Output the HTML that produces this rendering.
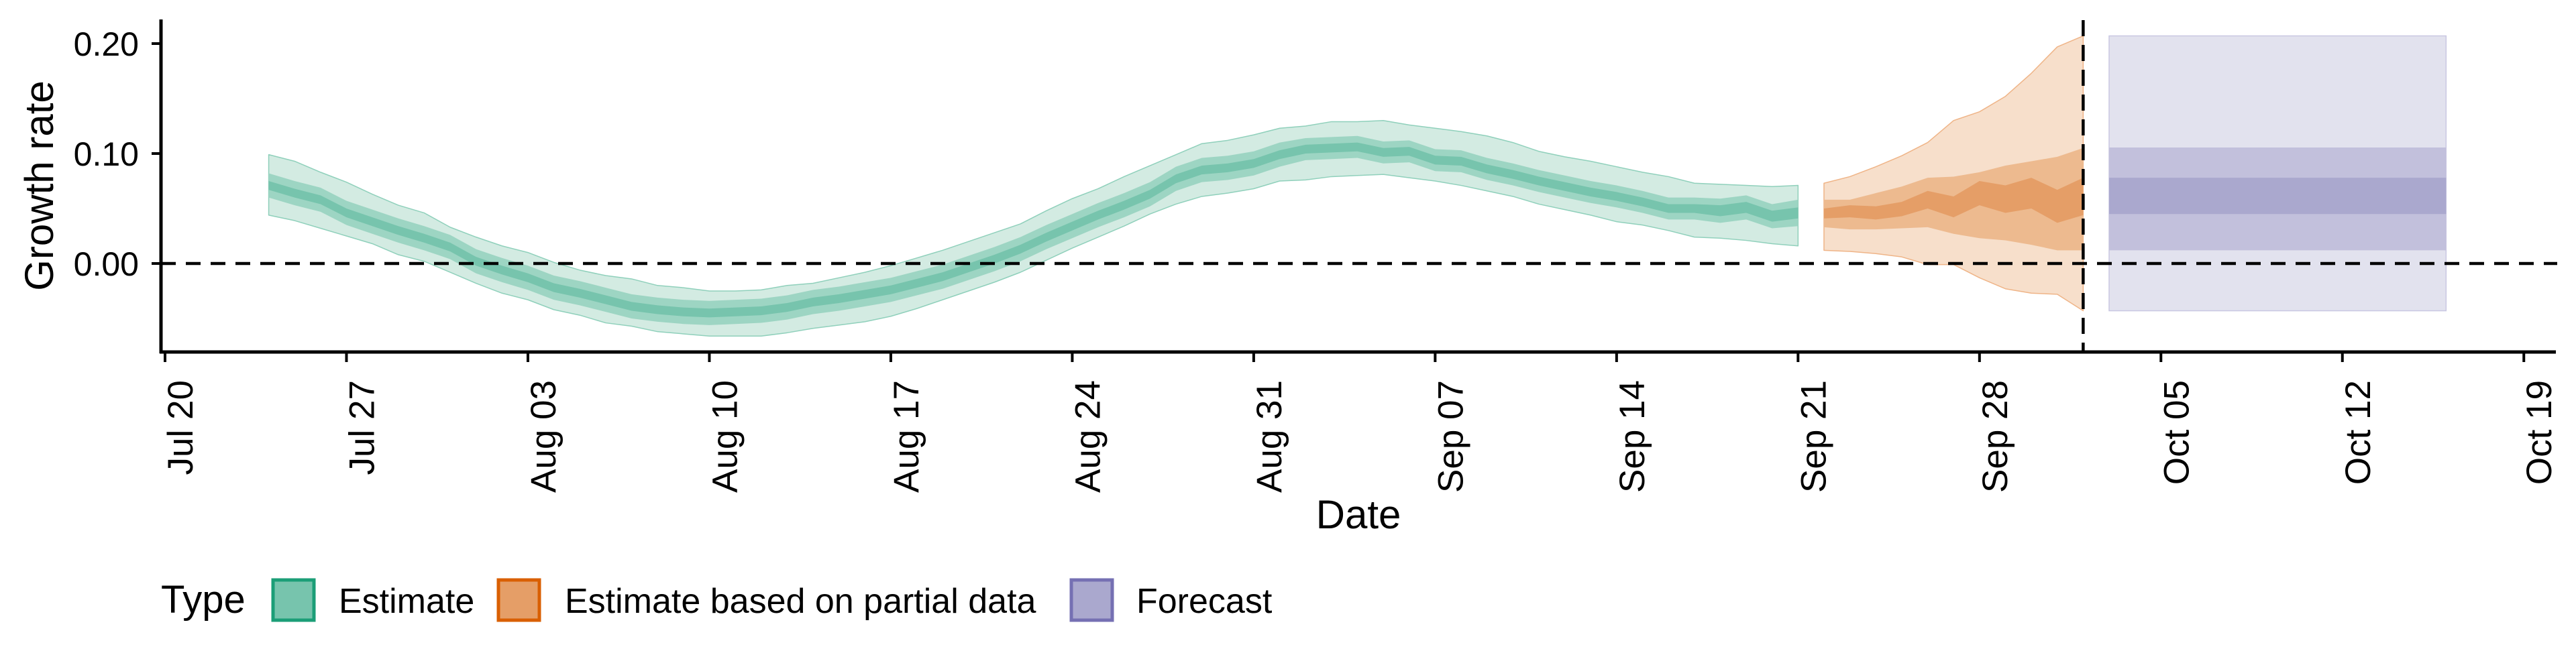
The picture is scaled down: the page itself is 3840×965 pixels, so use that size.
<!DOCTYPE html>
<html><head><meta charset="utf-8"><style>
html,body{margin:0;padding:0;background:#fff;}
svg text{font-family:"Liberation Sans",sans-serif;fill:#000;}
</style></head><body>
<svg id="chart" width="3840" height="960" viewBox="0 0 3840 960" xmlns="http://www.w3.org/2000/svg"></svg>
<script>
// ---- data (day offsets from Jul 20) ----
const estStartDay = 4;
const estMedian = [0.071,0.064,0.058,0.046,0.038,0.030,0.023,0.015,0.002,-0.006,-0.013,-0.022,-0.027,-0.033,-0.039,-0.042,-0.044,-0.045,-0.044,-0.043,-0.040,-0.035,-0.032,-0.028,-0.024,-0.018,-0.012,-0.004,0.004,0.013,0.024,0.034,0.044,0.053,0.063,0.077,0.085,0.087,0.091,0.099,0.104,0.105,0.106,0.101,0.102,0.094,0.093,0.086,0.081,0.075,0.070,0.065,0.061,0.056,0.050,0.050,0.048,0.051,0.043,0.046];
const estLo90 = [0.044,0.039,0.032,0.025,0.018,0.008,0.002,-0.008,-0.018,-0.027,-0.033,-0.042,-0.047,-0.054,-0.057,-0.062,-0.064,-0.066,-0.066,-0.066,-0.063,-0.059,-0.056,-0.053,-0.048,-0.041,-0.033,-0.025,-0.017,-0.008,0.003,0.014,0.024,0.034,0.045,0.054,0.061,0.064,0.068,0.075,0.076,0.079,0.080,0.081,0.078,0.075,0.071,0.066,0.061,0.054,0.049,0.044,0.038,0.035,0.030,0.024,0.023,0.021,0.018,0.016];
const estHi90 = [0.099,0.093,0.083,0.074,0.063,0.053,0.046,0.033,0.024,0.016,0.010,0.001,-0.006,-0.011,-0.014,-0.020,-0.022,-0.025,-0.025,-0.024,-0.020,-0.018,-0.013,-0.008,-0.002,0.005,0.012,0.020,0.028,0.036,0.048,0.059,0.068,0.079,0.089,0.099,0.109,0.112,0.117,0.123,0.125,0.129,0.129,0.130,0.126,0.123,0.120,0.116,0.110,0.102,0.097,0.093,0.088,0.083,0.079,0.073,0.072,0.071,0.070,0.071];
const estHalf50 = [0.011,0.011,0.011,0.011,0.011,0.011,0.011,0.011,0.011,0.011,0.011,0.011,0.011,0.011,0.011,0.011,0.011,0.011,0.011,0.011,0.011,0.011,0.011,0.011,0.011,0.011,0.011,0.011,0.011,0.011,0.011,0.011,0.011,0.011,0.011,0.011,0.011,0.011,0.011,0.011,0.010,0.010,0.010,0.010,0.010,0.010,0.010,0.010,0.010,0.010,0.010,0.010,0.010,0.010,0.010,0.010,0.011,0.011,0.011,0.012];
const estHalf20 = [0.004,0.004,0.004,0.004,0.004,0.004,0.004,0.004,0.004,0.004,0.004,0.004,0.004,0.004,0.004,0.004,0.004,0.004,0.004,0.004,0.004,0.004,0.004,0.004,0.004,0.004,0.004,0.004,0.004,0.004,0.004,0.004,0.004,0.004,0.004,0.004,0.004,0.004,0.004,0.004,0.004,0.004,0.004,0.004,0.004,0.004,0.004,0.004,0.004,0.004,0.004,0.004,0.004,0.004,0.004,0.004,0.005,0.005,0.005,0.005];

const partStartDay = 64;
const partLo90 = [0.012,0.011,0.009,0.006,-0.001,-0.001,-0.013,-0.023,-0.027,-0.028,-0.043];
const partLo50 = [0.033,0.031,0.031,0.032,0.033,0.027,0.023,0.021,0.017,0.012,0.012];
const partLo20 = [0.041,0.042,0.040,0.043,0.050,0.042,0.053,0.046,0.050,0.037,0.044];
const partHi20 = [0.050,0.053,0.052,0.056,0.066,0.061,0.075,0.071,0.078,0.067,0.078];
const partHi50 = [0.058,0.058,0.064,0.070,0.078,0.079,0.083,0.089,0.093,0.097,0.105];
const partHi90 = [0.073,0.079,0.088,0.098,0.110,0.130,0.138,0.152,0.173,0.197,0.207];

const fcStartDay = 75, fcEndDay = 88;
const fcBands = [-0.043, 0.012, 0.045, 0.078, 0.1055, 0.207]; // lo90, lo50, lo20, hi20, hi50, hi90

const cutoffDay = 74;
const yTicks = [0.00, 0.10, 0.20];
const yTickLabels = ["0.00","0.10","0.20"];
const xTickDays = [0,7,14,21,28,35,42,49,56,63,70,77,84,91];
const xTickLabels = ["Jul 20","Jul 27","Aug 03","Aug 10","Aug 17","Aug 24","Aug 31","Sep 07","Sep 14","Sep 21","Sep 28","Oct 05","Oct 12","Oct 19"];
const legendLabels = ["Estimate","Estimate based on partial data","Forecast"];

// ---- axes ----
const X0 = 246, PXDAY = 38.64;
const Y0 = 393, PXUNIT = 1640;
function xs(d){ return X0 + d*PXDAY; }
function ys(v){ return Y0 - v*PXUNIT; }

const NS = "http://www.w3.org/2000/svg";
const svg = document.getElementById('chart');
function mk(tag, attrs, parent){
  const e = document.createElementNS(NS, tag);
  for (const k in attrs) e.setAttribute(k, attrs[k]);
  (parent||svg).appendChild(e);
  return e;
}
function band(start, lo, hi, fill, stroke){
  let pts = [];
  for (let i=0;i<lo.length;i++) pts.push(xs(start+i)+","+ys(hi[i]));
  for (let i=lo.length-1;i>=0;i--) pts.push(xs(start+i)+","+ys(lo[i]));
  const p = mk('polygon',{points:pts.join(' '),fill:fill});
  if (stroke){ p.setAttribute('stroke',stroke); p.setAttribute('stroke-width','1.5'); p.setAttribute('stroke-linejoin','round'); }
  return p;
}

const g = mk('g',{});


const eLo50 = estMedian.map((m,i)=>m-estHalf50[i]), eHi50 = estMedian.map((m,i)=>m+estHalf50[i]);
const eLo20 = estMedian.map((m,i)=>m-estHalf20[i]), eHi20 = estMedian.map((m,i)=>m+estHalf20[i]);
let b;
b = band(estStartDay, estLo90, estHi90, '#d3ebe2', '#8fd0bb'); g.appendChild(b);


b = band(estStartDay, eLo50, eHi50, '#9dd5c3'); g.appendChild(b);


b = band(estStartDay, eLo20, eHi20, '#77c4ad'); g.appendChild(b);



const o = mk('g',{});


b = band(partStartDay, partLo90, partHi90, '#f7dfcb', '#efb487'); o.appendChild(b);


b = band(partStartDay, partLo50, partHi50, '#edba8f'); o.appendChild(b);


b = band(partStartDay, partLo20, partHi20, '#e59e67'); o.appendChild(b);



const f = mk('g',{});


const fcFills = ['#e2e2ee','#c2c0dc','#aaa8ce'];
for (let k=0;k<3;k++){
  const lo = fcBands[k], hi = fcBands[5-k];
  const r = mk('rect',{x:xs(fcStartDay),y:ys(hi),width:xs(fcEndDay)-xs(fcStartDay),height:ys(lo)-ys(hi),fill:fcFills[k]},f);
  if (k===0){ r.setAttribute('stroke','#c9c7e2'); r.setAttribute('stroke-width','1.5'); }
  
  
}

let zl = mk('line',{x1:240,x2:3812,y1:ys(0),y2:ys(0),stroke:'#000','stroke-width':4.5,'stroke-dasharray':'22 15'});


let cl = mk('line',{x1:xs(cutoffDay),x2:xs(cutoffDay),y1:30,y2:525,stroke:'#000','stroke-width':4.5,'stroke-dasharray':'24 13'});



let ya = mk('line',{x1:240,x2:240,y1:29,y2:527,stroke:'#000','stroke-width':5});


let xa = mk('line',{x1:238,x2:3810,y1:525,y2:525,stroke:'#000','stroke-width':5});



yTicks.forEach((v,i)=>{
  const t = mk('line',{x1:226,x2:240,y1:ys(v),y2:ys(v),stroke:'#000','stroke-width':4});
  
  
  const tx = mk('text',{x:207,y:ys(v)+18,'text-anchor':'end','font-size':50});
  tx.textContent = yTickLabels[i];
  
  
});
xTickDays.forEach((d,i)=>{
  const x = xs(d);
  const t = mk('line',{x1:x,x2:x,y1:525,y2:540,stroke:'#000','stroke-width':4});
  
  
  const tx = mk('text',{x:0,y:0,'text-anchor':'end','font-size':53,transform:'translate('+(x+41)+',567) rotate(-90)'});
  tx.textContent = xTickLabels[i];
  
  
});

let yt = mk('text',{x:0,y:0,'text-anchor':'middle','font-size':60,transform:'translate(79,277) rotate(-90)'});
yt.textContent = 'Growth rate';


let xt = mk('text',{x:2025,y:788,'text-anchor':'middle','font-size':60});
xt.textContent = 'Date';



const lg = mk('g',{});


let lt = mk('text',{x:240,y:914,'font-size':58},lg);
lt.textContent = 'Type';


const keyX = [404, 740, 1594], textX = [505, 842, 1694];
const keyFill = ['#77c4ad','#e59e67','#aaa8ce'], keyStroke = ['#1b9e77','#d95f02','#7570b3'];
legendLabels.forEach((lab,i)=>{
  const r = mk('rect',{x:keyX[i]+3,y:865,width:61,height:60,fill:keyFill[i],stroke:keyStroke[i],'stroke-width':5},lg);
  
  
  const t = mk('text',{x:textX[i],y:914,'font-size':52},lg);
  t.textContent = lab;
  
  
});
</script>
</body></html>
